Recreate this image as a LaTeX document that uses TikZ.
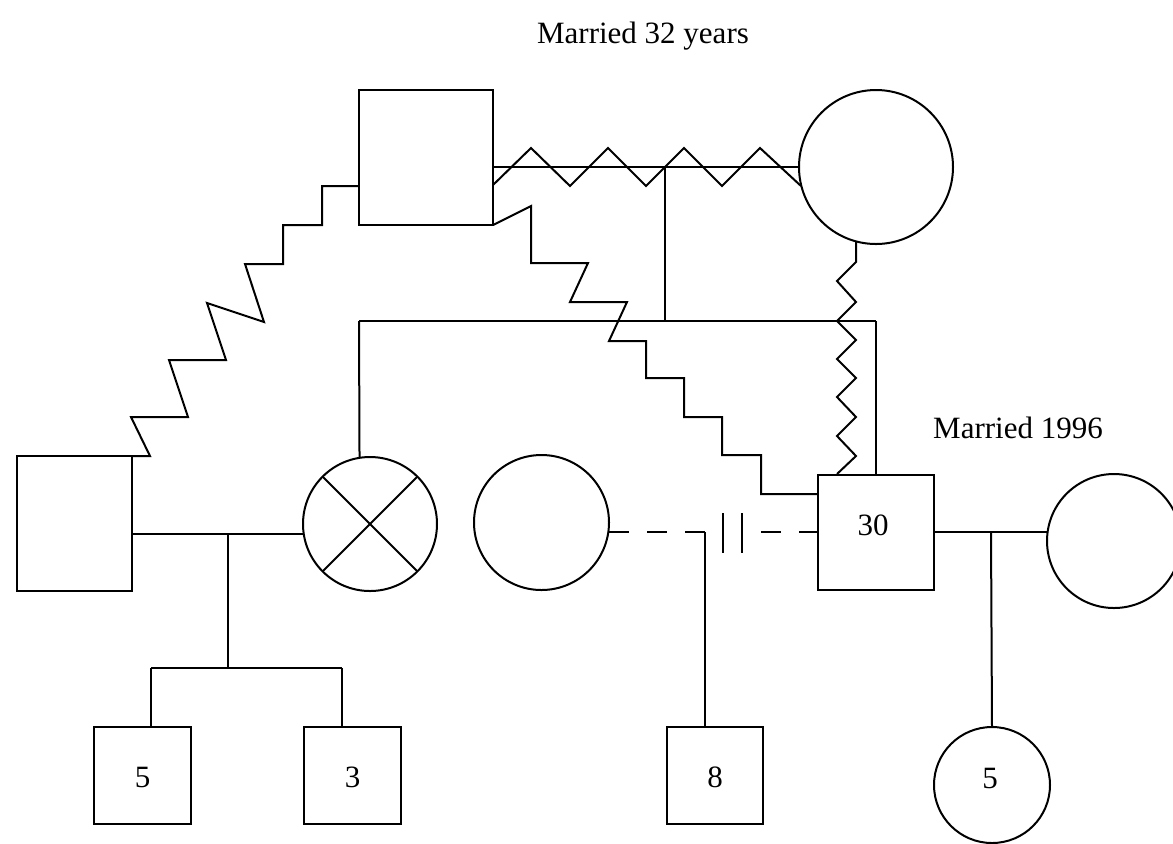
\documentclass[tikz,border=0pt]{standalone}
\usepackage{fontspec}
\setmainfont{Liberation Serif}
\begin{document}
\begin{tikzpicture}[x=0.5pt,y=-0.5pt, line width=1pt, line join=miter,
  every node/.style={font=\fontsize{15.5}{18}\selectfont},
  sq/.style={draw, rectangle, inner sep=0pt, outer sep=0pt},
  ci/.style={draw, circle, inner sep=0pt, outer sep=0pt},
  lbl/.style={inner sep=0pt},
  dsh/.style={dash pattern=on 10pt off 9pt}]
\useasboundingbox (0,0) rectangle (1173,843);

% people
\node[sq, minimum width=67pt, minimum height=67.5pt] (gf) at (426,157.5) {};
\node[ci, minimum size=77pt] (gm) at (876,167) {};
\node[sq, minimum width=57.5pt, minimum height=67.5pt] (lh) at (74.5,523.5) {};
\node[ci, minimum size=67pt] (xw) at (370,524) {};
\node[ci, minimum size=67.5pt] (ew) at (541.5,522.5) {};
\node[sq, minimum width=58pt, minimum height=57.5pt] (b30) at (876,532.5) {};
\node[ci, minimum size=67pt] (rw) at (1114,541) {};
\node[sq, minimum width=48.5pt, minimum height=48.5pt] (c5) at (142.5,775.5) {};
\node[sq, minimum width=48.5pt, minimum height=48.5pt] (c3) at (352.5,775.5) {};
\node[sq, minimum width=48pt, minimum height=48.5pt] (c8) at (715,775.5) {};
\node[ci, minimum size=58pt] (cg) at (992,785) {};

\draw (xw.45) -- (xw.225);
\draw (xw.135) -- (xw.315);

% labels
\node[lbl] (t1) at (643,36) {Married 32 years};
\node[lbl] (t2) at (1018,428) {Married 1996};
\node[lbl] (n30) at (873,525) {30};
\node[lbl] (n5) at (142.5,777) {5};
\node[lbl] (n3) at (352.5,777) {3};
\node[lbl] (n8) at (715,777) {8};
\node[lbl] (n5g) at (990,778) {5};

% coordinates
\coordinate (mt) at (665,167);
\coordinate (sl) at (359,321);
\coordinate (sm) at (665,321);
\coordinate (sr) at (876,321);
\coordinate (ml) at (228,534);
\coordinate (bl) at (228,668);
\coordinate (dv) at (705,532);
\coordinate (mr) at (991,532);

% grandparents marriage
\draw (gf.east |- gm.west) -- (gm.west);
\draw (493,185) -- (531,148) -- (570,186) -- (608,148) -- (646,186)
  -- (684,148) -- (722,186) -- (760,148) -- (801,186);
\draw (mt) -- (sm);
\draw (sl) -- (sr);
\draw (sl) -- (xw.99);
\draw (sr) -- (b30.north);

% left staircase
\draw (359,186) -- (322,186) -- (322,225) -- (283,225) -- (283,264) -- (245,264)
  -- (264,322) -- (207,303) -- (226,360) -- (169,360) -- (188,417) -- (131,417)
  -- (150,456) -- (lh.north east);

% right staircase
\draw (gf.south east) -- (531,206) -- (531,263) -- (588,263) -- (570,302)
  -- (627,302) -- (609,341) -- (646,341) -- (646,378) -- (684,378) -- (684,417)
  -- (722,417) -- (722,455) -- (761,455) -- (761,494) -- (b30.west |- 0,494);

% vertical zigzag
\draw (gm.-105) -- (856,262) -- (837,281) -- (856,302) -- (837,321) -- (856,340)
  -- (837,359) -- (856,378) -- (837,397) -- (856,417) -- (837,436) -- (856,456)
  -- (837,474);

% left family
\draw (lh.east |- ml) -- (xw.west |- ml);
\draw (ml) -- (bl);
\draw (151,668) -- (342,668);
\draw (151,668) -- (151,727);
\draw (342,668) -- (342,727);

% divorced relation
\draw[dsh] (ew.east |- dv) -- (dv);
\draw (dv) -- (c8.north -| dv);
\draw[dsh] (761,532) -- (b30.west |- dv);
\draw (723,513) -- (723,553);
\draw (742,513) -- (742,553);

% right marriage
\draw (b30.east |- mr) -- (1048,532);
\draw (mr) -- (cg.north);
\end{tikzpicture}
\end{document}
